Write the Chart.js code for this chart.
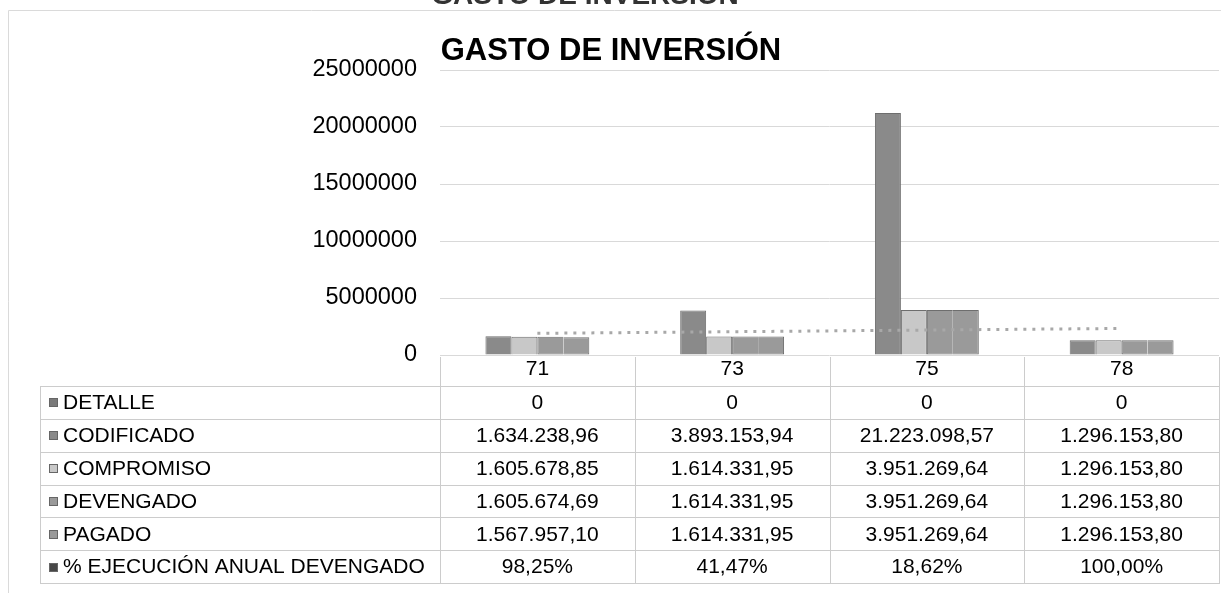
<!DOCTYPE html>
<html><head><meta charset="utf-8">
<script src="https://cdn.jsdelivr.net/npm/chart.js@4.4.1/dist/chart.umd.min.js"></script>
<style>html,body{margin:0;padding:0;background:#fff;overflow:hidden}#wrap{position:relative;width:1221px;height:593px}</style>
</head><body><div id="wrap"><canvas id="c" width="1221" height="593"></canvas></div>
<script>
const categories = ['71', '73', '75', '78'];
const seriesNames = ['DETALLE', 'CODIFICADO', 'COMPROMISO', 'DEVENGADO', 'PAGADO', '% EJECUCIÓN ANUAL DEVENGADO'];
const detalle = [0, 0, 0, 0];
const codificado = [1634238.96, 3893153.94, 21223098.57, 1296153.80];
const compromiso = [1605678.85, 1614331.95, 3951269.64, 1296153.80];
const devengado = [1605674.69, 1614331.95, 3951269.64, 1296153.80];
const pagado = [1567957.10, 1614331.95, 3951269.64, 1296153.80];
const ejecucion = [0.9825, 0.4147, 0.1862, 1.0];
// dotted trend line: end values
const trendLine = [1900000, null, null, 2330000];
const yMin = 0, yMax = 25000000, yStep = 5000000;
const titleText = 'GASTO DE INVERSIÓN';

const FONT = "'Liberation Sans', Arial, sans-serif";
const colors = ['#7a7a7a', '#8a8a8a', '#c8c8c8', '#9a9a9a', '#9a9a9a', '#474747'];
const seriesData = [detalle, codificado, compromiso, devengado, pagado, ejecucion];

function fmtNum(v) {
  if (v === 0) return '0';
  const parts = v.toFixed(2).split('.');
  const intPart = parts[0].replace(/\B(?=(\d{3})+(?!\d))/g, '.');
  return intPart + ',' + parts[1];
}
function fmtPct(v) { return (v * 100).toFixed(2).replace('.', ',') + '%'; }

const barDatasets = seriesNames.map((name, i) => ({
  type: 'bar',
  label: name,
  data: seriesData[i],
  backgroundColor: (i === 0 || i === 5) ? 'rgba(0,0,0,0)' : colors[i],
  borderColor: '#6e6e6e',
  borderWidth: (i === 0 || i === 5) ? 0 : 1,
  borderSkipped: i === 3 ? 'right' : (i === 4 ? 'left' : 'start'),
  order: 2
}));

const tablePlugin = {
  id: 'tablePlugin',
  afterDraw(chart) {
    const ctx = chart.ctx;
    const area = chart.chartArea;
    const xs = chart.scales.x;
    const colW = area.width / categories.length;
    const tableLeft = 40, tableTop = 386, tableBottom = 583;
    const rowH = (tableBottom - tableTop) / seriesNames.length;
    ctx.save();
    // outer frame
    ctx.strokeStyle = '#dadada';
    ctx.lineWidth = 1;
    ctx.beginPath();
    ctx.moveTo(8.5, 10.5); ctx.lineTo(1221, 10.5);
    ctx.moveTo(8.5, 10.5); ctx.lineTo(8.5, 593);
    ctx.stroke();
    // partial top heading (cut off by the photo edge)
    ctx.fillStyle = '#333';
    ctx.font = 'bold 28px ' + FONT;
    ctx.textAlign = 'center';
    ctx.textBaseline = 'alphabetic';
    ctx.fillText(titleText, 585, 4);
    // title
    ctx.fillStyle = '#000';
    ctx.font = 'bold 31px ' + FONT;
    ctx.fillText(titleText, 611, 60);
    // table grid
    ctx.strokeStyle = '#cccccc';
    ctx.beginPath();
    for (let r = 0; r <= seriesNames.length; r++) {
      const y = Math.round(tableTop + r * rowH) + 0.5;
      ctx.moveTo(tableLeft, y); ctx.lineTo(area.right + 1, y);
    }
    ctx.moveTo(tableLeft + 0.5, tableTop); ctx.lineTo(tableLeft + 0.5, tableBottom);
    for (let c = 0; c <= categories.length; c++) {
      const x = Math.round(area.left + c * colW) + 0.5;
      ctx.moveTo(x, area.bottom + 2); ctx.lineTo(x, tableBottom);
    }
    ctx.stroke();
    // rows
    ctx.font = '21px ' + FONT;
    ctx.textBaseline = 'middle';
    seriesNames.forEach((name, r) => {
      const yc = tableTop + r * rowH + rowH / 2 + 1;
      ctx.fillStyle = colors[r];
      ctx.fillRect(49, Math.round(yc - 5), 9, 9);
      ctx.strokeStyle = '#666';
      ctx.strokeRect(49.5, Math.round(yc - 5) + 0.5, 8, 8);
      ctx.fillStyle = '#000';
      ctx.textAlign = 'left';
      ctx.fillText(name, 63, yc);
      ctx.textAlign = 'center';
      seriesData[r].forEach((v, i) => {
        const xc = xs.getPixelForValue(i);
        ctx.fillText(r === 5 ? fmtPct(v) : fmtNum(v), xc, yc);
      });
    });
    ctx.restore();
  }
};

new Chart(document.getElementById('c'), {
  data: {
    labels: categories,
    datasets: [
      ...barDatasets,
      {
        type: 'line',
        label: 'Lineal (DEVENGADO)',
        data: trendLine,
        spanGaps: true,
        borderColor: '#a8a8a8',
        borderWidth: 3,
        borderDash: [3, 6],
        borderCapStyle: 'butt',
        pointRadius: 0,
        fill: false,
        order: 1
      }
    ]
  },
  options: {
    responsive: false,
    animation: false,
    devicePixelRatio: 1,
    layout: { padding: { top: 70, bottom: 207, left: 0, right: 2 } },
    datasets: { bar: { categoryPercentage: 0.8, barPercentage: 1.0 } },
    plugins: { legend: { display: false }, title: { display: false }, tooltip: { enabled: false } },
    scales: {
      x: {
        grid: { display: false, drawTicks: false },
        border: { display: false },
        ticks: { font: { family: FONT, size: 21 }, color: '#000', padding: 2 },
        afterFit(s) { s.height = 31; }
      },
      y: {
        min: yMin, max: yMax,
        grid: { color: '#d9d9d9', drawTicks: false },
        border: { display: false },
        ticks: { stepSize: yStep, font: { family: FONT, size: 23.5 }, color: '#000', padding: 23, callback: v => String(v) },
        afterFit(s) { s.width = 440; }
      }
    }
  },
  plugins: [tablePlugin]
});
</script>
</body></html>
